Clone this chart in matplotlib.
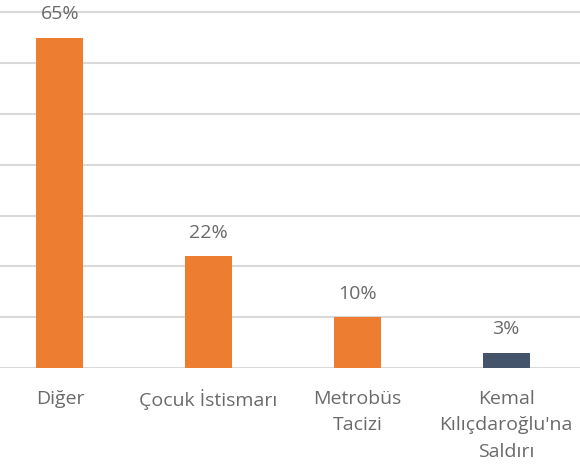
import matplotlib.pyplot as plt

categories = ["Diğer", "Çocuk İstismarı", "Metrobüs\nTacizi", "Kemal\nKılıçdaroğlu'na\nSaldırı"]
values = [65, 22, 10, 3]
bar_colors = ["#ED7D31", "#ED7D31", "#ED7D31", "#44546A"]

plt.rcParams['font.family'] = ['Open Sans', 'DejaVu Sans']

fig = plt.figure(figsize=(5.8, 4.72), dpi=100)
ax = fig.add_axes([0, 0.2203, 1, 0.7797])

x = range(len(categories))
bars = ax.bar(x, values, width=0.316, color=bar_colors, zorder=3)

for b, v in zip(bars, values):
    ax.annotate(f"{v}%", (b.get_x() + b.get_width() / 2, v),
                xytext=(0, 17), textcoords="offset points",
                ha="center", va="center", fontsize=14, color="#6a6a6a")

ax.set_xlim(-0.403, 3.497)
ax.set_ylim(0, 72.4)
ax.set_yticks(range(0, 80, 10))
ax.yaxis.grid(True, color="#d9d9d9", linewidth=1.5, zorder=0)
ax.tick_params(axis="y", left=False, labelleft=False)
ax.tick_params(axis="x", bottom=False, pad=12)
ax.set_xticks(list(x))
ax.set_xticklabels(categories, fontsize=14, color="#6a6a6a", linespacing=1.62, va="top")
for s in ax.spines.values():
    s.set_visible(False)

fig.savefig("out.png", dpi=100)
